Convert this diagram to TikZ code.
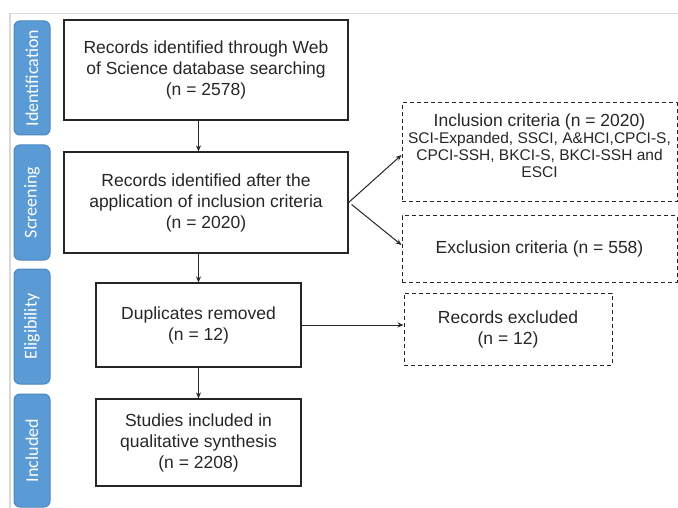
\documentclass[tikz,border=0pt]{standalone}
\usepackage{fontspec}
\setmainfont{Liberation Sans}
\newfontfamily\tabfont{Carlito}
\usetikzlibrary{arrows.meta}

\definecolor{tabblue}{HTML}{5B9BD5}
\definecolor{tabedge}{HTML}{4A86C0}
\definecolor{framegray}{HTML}{D9D9D9}
\definecolor{inkgray}{HTML}{262626}

\tikzstyle{process} = [rectangle, draw=inkgray, line width=1.2pt, text=inkgray, align=center, inner sep=0pt, font=\fontsize{17.5}{21}\selectfont]
\tikzstyle{excluded} = [process, dash pattern=on 4pt off 3pt, line width=1pt]
\tikzstyle{phase} = [rectangle, rounded corners=6pt, fill=tabblue, draw=tabedge, line width=1pt, minimum height=36pt, text=white, rotate=90, font=\tabfont\fontsize{18}{20}\selectfont]
\tikzstyle{arrow} = [line width=1pt, draw=inkgray, -{Stealth[length=6pt,width=5pt]}]

\begin{document}
\begin{tikzpicture}[x=1pt, y=-1pt]
		\useasboundingbox (0,0) rectangle (678,508);
		\draw [framegray, line width=1.5pt] (10,508) -- (10,13.5) -- (678,13.5);
		
		\node (tabIdent) [phase, minimum width=114pt] at (32,78) {Identification};
		\node (tabScreen) [phase, minimum width=115pt] at (32,202.5) {Screening};
		\node (tabElig) [phase, minimum width=115pt] at (32,326.5) {Eligibility};
		\node (tabIncl) [phase, minimum width=113pt] at (32,450.5) {Included};
		
		\node (ident) [process, minimum width=284pt, minimum height=100pt] at (206,70) {Records identified through Web\\of Science database searching\\(n = 2578)};
		\node (screen) [process, minimum width=284pt, minimum height=101pt] at (206,202.5) {Records identified after the\\application of inclusion criteria\\(n = 2020)};
		\node (dup) [process, minimum width=205pt, minimum height=84pt] at (198.5,325) {Duplicates removed\\(n = 12)};
		\node (studies) [process, minimum width=205pt, minimum height=87pt] at (198.5,442.5) {Studies included in\\qualitative synthesis\\(n = 2208)};
		
		\node (incl) [excluded, minimum width=275pt, minimum height=99pt, text depth=14pt] at (539.5,152.5) {Inclusion criteria (n = 2020)\\[-4pt]{\fontsize{15.5}{16}\selectfont SCI-Expanded, SSCI, A\&HCI,CPCI-S,}\\[-4pt]{\fontsize{15.5}{16}\selectfont CPCI-SSH, BKCI-S, BKCI-SSH and}\\[-4pt]{\fontsize{15.5}{16}\selectfont ESCI}};
		\node (excl) [excluded, minimum width=275pt, minimum height=66pt] at (539.5,249) {Exclusion criteria (n = 558)};
		\node (recExcluded) [excluded, minimum width=208pt, minimum height=72pt] at (508,329) {Records excluded\\(n = 12)};
		
		\draw [arrow] (dup.north |- ident.south) -- (dup.north |- screen.north);
		\draw [arrow] (dup.north |- screen.south) -- (dup.north);
		\draw [arrow] (dup.south) -- (studies.north);
		\draw [arrow] (screen.east) -- ([yshift=-2.5pt]incl.west);
		\draw [arrow] ([xshift=3pt,yshift=-2pt]screen.east) -- ([yshift=4pt]excl.west);
		\draw [arrow] (dup.east) -- (dup.east -| recExcluded.west);
	
	\end{tikzpicture}
\end{document}
